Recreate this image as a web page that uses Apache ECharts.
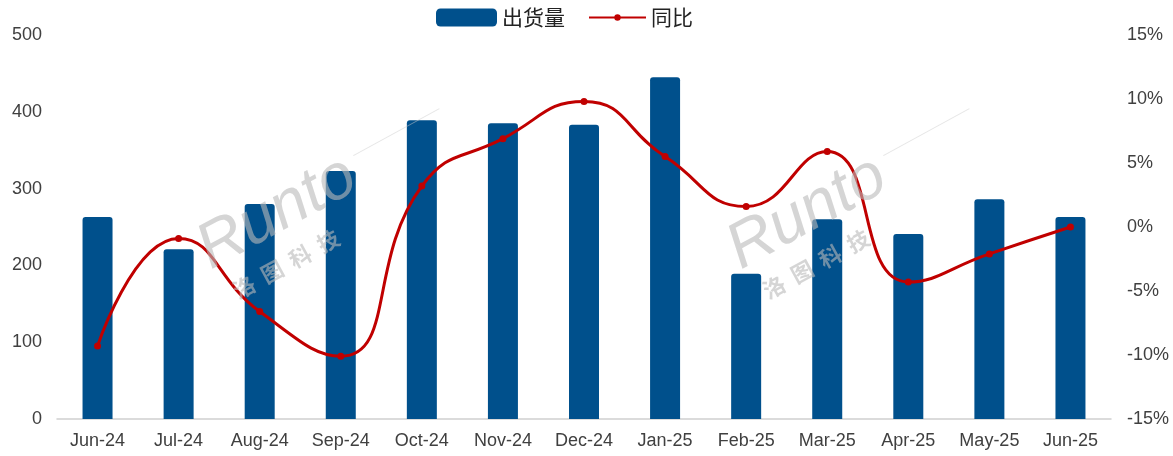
<!DOCTYPE html>
<html><head><meta charset="utf-8">
<script src="https://cdn.jsdelivr.net/npm/echarts@6/dist/echarts.min.js"></script>
<style>html,body{margin:0;padding:0;background:#fff}#c{width:1173px;height:456px}</style>
</head><body><div id="c"></div>
<script>
const categories = ['Jun-24','Jul-24','Aug-24','Sep-24','Oct-24','Nov-24','Dec-24','Jan-25','Feb-25','Mar-25','Apr-25','May-25','Jun-25'];
const shipments = [263, 221, 280, 323, 389, 385, 383, 445, 189, 260, 241, 286, 263];
const yoy = [-9.3, -0.9, -6.6, -10.1, 3.2, 6.9, 9.8, 5.5, 1.6, 5.9, -4.3, -2.1, 0.0];
const leftTicks = [0, 100, 200, 300, 400, 500];
const rightTicks = [-15, -10, -5, 0, 5, 10, 15];

const chart = echarts.init(document.getElementById('c'));
const font = "'Liberation Sans', Arial, 'Noto Sans CJK SC', sans-serif";
const wmFill = 'rgba(185,185,185,0.6)';
function watermark(cx, cy) {
  return {
    type: 'group', x: cx, y: cy, rotation: 0.5, silent: true, z: 100, zlevel: 1,
    children: [
      { type: 'text', z: 100, zlevel: 1, x: -88, y: -48, style: { text: 'Runto', font: 'italic 64px ' + font, fill: wmFill } },
      { type: 'text', z: 100, zlevel: 1, x: -78, y: 22, style: { text: '洛  图  科  技', font: 'bold 22px "Noto Sans CJK SC"', fill: wmFill } },
      { type: 'line', z: 100, zlevel: 1, shape: { x1: 92, y1: -30, x2: 190, y2: -30 }, style: { stroke: 'rgba(205,205,205,0.5)', lineWidth: 1 } }
    ]
  };
}
const labelStyle = { fontSize: 18, color: '#404040' };
chart.setOption({
  animation: false,
  textStyle: { fontFamily: font },
  legend: [
    { left: 431, top: 2, itemWidth: 61, itemHeight: 18,
      textStyle: { fontSize: 21, color: '#222', fontFamily: "'Noto Sans CJK SC', sans-serif" },
      data: [{ name: '出货量', icon: 'roundRect' }] },
    { left: 583, top: 2, itemWidth: 57, itemHeight: 8,
      textStyle: { fontSize: 21, color: '#222', fontFamily: "'Noto Sans CJK SC', sans-serif" },
      data: [{ name: '同比' }] }
  ],
  grid: { left: 57, right: 62, top: 35, bottom: 37, containLabel: false },
  xAxis: {
    type: 'category', data: categories,
    axisLine: { lineStyle: { color: '#d0d0d0', width: 1.5 } },
    axisTick: { show: false },
    axisLabel: Object.assign({ margin: 13 }, labelStyle)
  },
  yAxis: [
    { type: 'value', min: leftTicks[0], max: leftTicks[leftTicks.length - 1], interval: 100, splitLine: { show: false },
      axisLabel: Object.assign({ margin: 15 }, labelStyle) },
    { type: 'value', min: rightTicks[0], max: rightTicks[rightTicks.length - 1], interval: 5, splitLine: { show: false },
      axisLabel: Object.assign({ margin: 16, formatter: v => v + '%' }, labelStyle) }
  ],
  series: [
    { name: '出货量', type: 'bar', data: shipments, barWidth: 30,
      itemStyle: { color: '#00508C', borderRadius: [3, 3, 0, 0] } },
    { name: '同比', type: 'line', yAxisIndex: 1, data: yoy, smooth: 0.5,
      symbol: 'circle', symbolSize: 7,
      lineStyle: { color: '#C00000', width: 3 },
      itemStyle: { color: '#C00000' } }
  ],
  graphic: [watermark(287, 226), watermark(817, 226)]
});
</script></body></html>
